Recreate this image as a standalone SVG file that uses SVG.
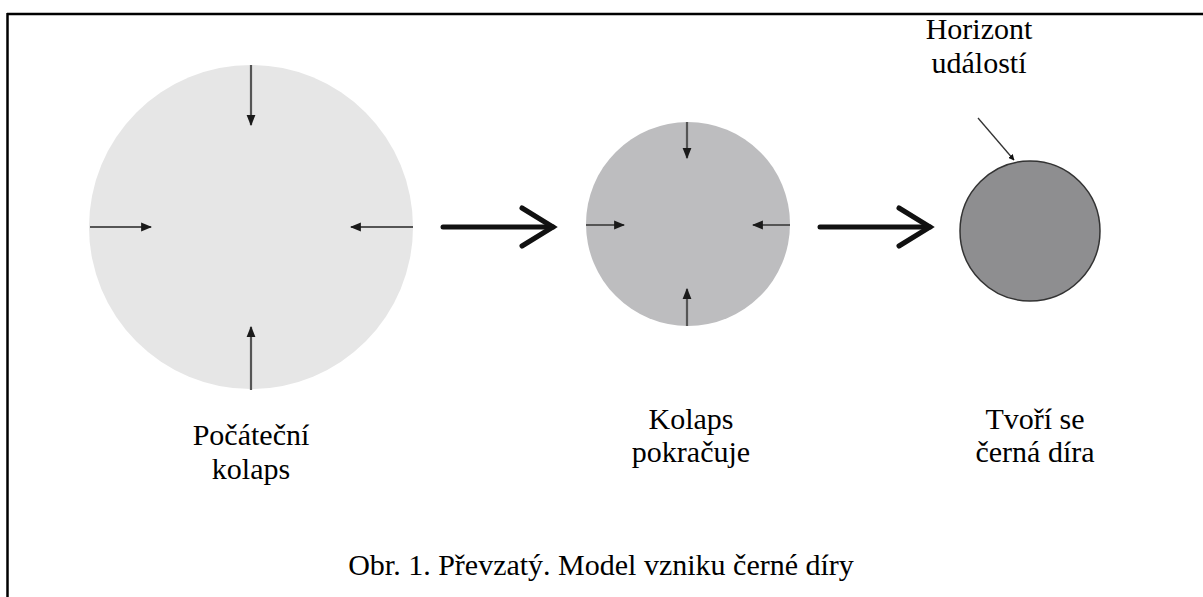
<svg xmlns="http://www.w3.org/2000/svg" width="1203" height="597" viewBox="0 0 1203 597">
<style>
text{font-family:"Liberation Serif","Times New Roman",Times,serif;font-size:30px;fill:#000;text-anchor:middle}
.sm{stroke:#555;stroke-width:2.2;fill:none}
.big{stroke:#111;stroke-width:5;fill:none;stroke-linecap:round;stroke-linejoin:miter}
</style>
<defs>
<marker id="ah" viewBox="0 0 10 10" refX="9" refY="5" markerWidth="6" markerHeight="6" orient="auto" markerUnits="userSpaceOnUse">
<path d="M0,0 L10,5 L0,10 z" fill="#111"/>
</marker>
<marker id="ahs" viewBox="0 0 10 10" refX="9" refY="5" markerWidth="11" markerHeight="11" orient="auto" markerUnits="userSpaceOnUse">
<path d="M0,1 L10,5 L0,9 z" fill="#1a1a1a"/>
</marker>
</defs>
<rect width="1203" height="597" fill="#fff"/>
<g id="frame">
<line x1="7" y1="14" x2="1203" y2="14" stroke="#000" stroke-width="2.5"/>
<line x1="7.5" y1="13" x2="7.5" y2="597" stroke="#000" stroke-width="2.5"/>
</g>
<g id="stage1">
<circle cx="251" cy="227" r="162" fill="#e6e6e6"/>
<line class="sm" x1="251" y1="65" x2="251" y2="125" marker-end="url(#ahs)"/>
<line class="sm" x1="90" y1="227" x2="151" y2="227" marker-end="url(#ahs)"/>
<line class="sm" x1="413" y1="227" x2="351" y2="227" marker-end="url(#ahs)"/>
<line class="sm" x1="251" y1="390" x2="251" y2="327" marker-end="url(#ahs)"/>
<text x="251" y="445" font-family="Liberation Serif, serif">Počáteční</text>
<text x="251" y="479" font-family="Liberation Serif, serif">kolaps</text>
</g>
<g id="stage2">
<circle cx="688" cy="224" r="102" fill="#bdbdbf"/>
<line class="sm" x1="687" y1="122" x2="687" y2="158" marker-end="url(#ahs)"/>
<line class="sm" x1="586" y1="225" x2="624" y2="225" marker-end="url(#ahs)"/>
<line class="sm" x1="790" y1="225" x2="753" y2="225" marker-end="url(#ahs)"/>
<line class="sm" x1="687" y1="326" x2="687" y2="289" marker-end="url(#ahs)"/>
<text x="691" y="429" font-family="Liberation Serif, serif">Kolaps</text>
<text x="691" y="462" font-family="Liberation Serif, serif">pokračuje</text>
</g>
<g id="stage3">
<circle cx="1030" cy="231" r="70" fill="#8e8e90" stroke="#333" stroke-width="1.5"/>
<text x="1035" y="429" font-family="Liberation Serif, serif">Tvoří se</text>
<text x="1035" y="462" font-family="Liberation Serif, serif">černá díra</text>
</g>
<g id="label-horizont">
<text x="979" y="39" font-family="Liberation Serif, serif">Horizont</text>
<text x="979" y="73" font-family="Liberation Serif, serif">událostí</text>
</g>
<g id="connectors">
<line class="big" x1="443" y1="227" x2="553" y2="227"/>
<polyline class="big" points="522,208 553,227 522,246"/>
<line class="big" x1="820" y1="227" x2="930" y2="227"/>
<polyline class="big" points="899,208 930,227 899,246"/>
<line x1="978" y1="118" x2="1014" y2="160" stroke="#333" stroke-width="1.3" marker-end="url(#ah)"/>
</g>
<text id="caption" x="601" y="575" font-family="Liberation Serif, serif">Obr. 1. Převzatý. Model vzniku černé díry</text>
</svg>
